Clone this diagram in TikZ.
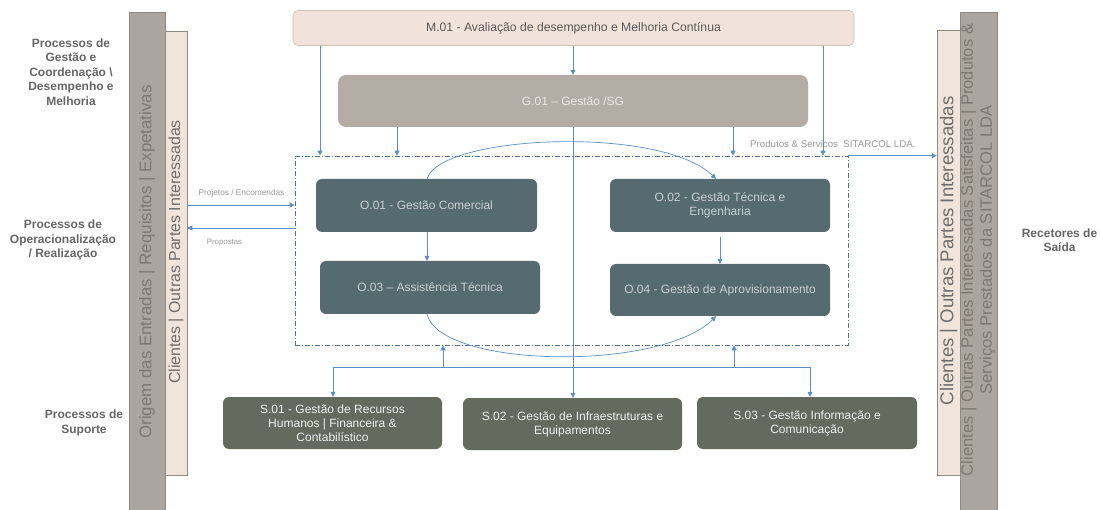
\documentclass[tikz,border=0pt]{standalone}
\usepackage{fontspec}
\setmainfont{Liberation Sans}
\usetikzlibrary{arrows.meta,calc}
\definecolor{bargray}{HTML}{ABA59F}
\definecolor{bargraytext}{HTML}{7D7873}
\definecolor{barbeige}{HTML}{F0E4DB}
\definecolor{barborder}{HTML}{8F8984}
\definecolor{beigetext}{HTML}{6E6E6E}
\definecolor{mfill}{HTML}{F1E3D9}
\definecolor{mborder}{HTML}{CDBFB4}
\definecolor{mtext}{HTML}{595959}
\definecolor{gfill}{HTML}{B4ADA6}
\definecolor{gtext}{HTML}{EDE7E2}
\definecolor{ofill}{HTML}{556B70}
\definecolor{otext}{HTML}{C9D0D2}
\definecolor{sfill}{HTML}{646A5E}
\definecolor{stext}{HTML}{F0F0F0}
\definecolor{arrblue}{HTML}{5B8FCB}
\definecolor{dashblue}{HTML}{4F72A0}
\definecolor{lbltext}{HTML}{666666}
\definecolor{smalltext}{HTML}{9A9A9A}
\begin{document}
\begin{tikzpicture}[x=1pt,y=-1pt,
  proc/.style={rectangle,rounded corners=6pt,inner sep=0pt,align=center},
  mbox/.style={proc,fill=mfill,draw=mborder,line width=0.6pt,text=mtext,font=\fontsize{12.2}{14.5}\selectfont,rounded corners=5pt},
  gbox/.style={proc,fill=gfill,text=gtext,font=\fontsize{12}{14.5}\selectfont,rounded corners=8pt},
  obox/.style={proc,fill=ofill,text=otext,font=\fontsize{12}{14.5}\selectfont,minimum width=220pt,minimum height=53pt},
  sbox/.style={proc,fill=sfill,text=stext,font=\fontsize{12}{14}\selectfont,minimum width=219pt,minimum height=52pt},
  grayband/.style={rectangle,inner sep=0pt,fill=bargray,draw=barborder,line width=0.5pt},
  beigeband/.style={rectangle,inner sep=0pt,fill=barbeige,draw=barborder,line width=0.5pt},
  bandtext/.style={rotate=90,inner sep=0pt,align=center},
  sidelbl/.style={align=center,text=lbltext,font=\fontsize{12}{14.5}\selectfont\bfseries,inner sep=0pt},
  small/.style={text=smalltext,inner sep=0pt},
  arr/.style={draw=arrblue,line width=0.7pt,-{Triangle[width=5pt,length=5pt]}},
  ln/.style={draw=arrblue,line width=0.7pt},
  dbox/.style={rectangle,draw=dashblue,line width=0.6pt,dash pattern=on 5pt off 2pt on 1pt off 2pt,inner sep=0pt}
]
\useasboundingbox (0,0) rectangle (1100,510);
\fill[white] (0,0) rectangle (1100,510);

% side bands
\node[grayband,minimum width=36pt,minimum height=500pt] (lgray) at (147,262) {};
\node[beigeband,minimum width=22pt,minimum height=444pt] (lbeige) at (176,253) {};
\node[beigeband,minimum width=23pt,minimum height=445pt] (rbeige) at (948.5,252.5) {};
\node[grayband,minimum width=37pt,minimum height=500pt] (rgray) at (978.5,262) {};

\node[bandtext,text=bargraytext,font=\fontsize{16.9}{19}\selectfont] (lgrayt) at (147,262) {Origem das Entradas | Requisitos | Expetativas};
\node[bandtext,text=beigetext,font=\fontsize{15.9}{18}\selectfont] (lbeiget) at (176,252) {Clientes | Outras Partes Interessadas};
\node[bandtext,text=beigetext,font=\fontsize{18.6}{20}\selectfont] (rbeiget) at (948.5,251) {Clientes | Outras Partes Interessadas};
\node[bandtext,text=bargraytext,font=\fontsize{16.6}{19}\selectfont] (rgrayt) at (978,250) {Clientes | Outras Partes Interessadas Satisfeitas | Produtos \&\\Serviços Prestados da SITARCOL LDA};

% side labels
\node[sidelbl] (lbl1) at (71,72) {Processos de\\Gestão e\\Coordenação \textbackslash\\Desempenho e\\Melhoria};
\node[sidelbl] (lbl2) at (63,240) {Processos de\\Operacionalização\\/ Realização};
\node[sidelbl] (lbl3) at (84,423) {Processos de\\Suporte};
\node[sidelbl] (lbl4) at (1059.5,240) {Recetores de\\Saída};

% main boxes
\node[mbox,minimum width=561pt,minimum height=35pt] (m01) at (573.5,28) {M.01 - Avaliação de desempenho e Melhoria Contínua};
\node[gbox,minimum width=470pt,minimum height=52pt] (g01) at (573,101) {G.01 – Gestão /SG};
\node[dbox,minimum width=553pt,minimum height=189pt] (ops) at (571.5,250.5) {};
\node[obox,minimum width=221pt] (o01) at (426.5,205.5) {O.01 - Gestão Comercial};
\node[obox] (o02) at (720,205.5) {O.02 - Gestão Técnica e\\Engenharia};
\node[obox] (o03) at (430,287.5) {O.03 – Assistência Técnica};
\node[obox,minimum height=52pt] (o04) at (720,290) {O.04 - Gestão de Aprovisionamento};
\node[sbox] (s01) at (332.5,423) {S.01 - Gestão de Recursos\\Humanos | Financeira \&\\Contabilístico};
\node[sbox] (s02) at (572.5,424) {S.02 - Gestão de Infraestruturas e\\Equipamentos};
\node[sbox,minimum width=220pt] (s03) at (807,423) {S.03 - Gestão Informação e\\Comunicação};

% small labels
\node[small,font=\fontsize{8.3}{10}\selectfont] (lproj) at (241.5,193) {Projetos / Encomendas};
\node[small,font=\fontsize{7.8}{9}\selectfont] (lprop) at (224.5,243) {Propostas};
\node[small,font=\fontsize{9.7}{11}\selectfont,anchor=west] (lprod) at (750,144) {Produtos \& Servicos\ \ SITARCOL LDA.};

% connectors from M.01 and G.01
\draw[arr] (320,0 |- m01.south) -- (320,0 |- ops.north);
\draw[arr] (573,0 |- m01.south) -- (573,0 |- g01.north);
\draw[arr] (823,0 |- m01.south) -- (823,0 |- ops.north);
\draw[arr] (397,0 |- g01.south) -- (397,0 |- ops.north);
\draw[arr] (733,0 |- g01.south) -- (733,0 |- ops.north);
\draw[arr] (573,0 |- g01.south) -- (573,0 |- s02.north);

% operational flows
\coordinate (o01top) at (427,0 |- o01.north);
\coordinate (o02top) at (716,0 |- o02.north);
\coordinate (o03bot) at (427,0 |- o03.south);
\coordinate (o04bot) at (716,0 |- o04.south);
\draw[arr] (o01top) .. controls (440,135) and (660,125) .. (o02top);
\draw[arr] (o03bot) .. controls (440,368) and (660,372) .. (o04bot);
\draw[arr] (427,0 |- o01.south) -- (427,0 |- o03.north);
\draw[arr] (720,0 |- o02.south) ++(0,5) -- (720,0 |- o04.north);

% left in/out
\draw[arr] (lbeige.east |- 0,205) -- (ops.west |- 0,205);
\draw[arr] (ops.west |- 0,228) -- (lbeige.east |- 0,228);

% right output
\draw[arr] (ops.north east) -- (rbeige.west |- ops.north east);

% support connectors
\coordinate (sl) at (333,367);
\coordinate (sr) at (810,367);
\draw[ln] (sl) -- (sr);
\draw[arr] (sl) -- (sl |- s01.north);
\draw[arr] (sr) -- (sr |- s03.north);
\draw[arr] (443,367) -- (443,0 |- ops.south);
\draw[arr] (734,367) -- (734,0 |- ops.south);
\end{tikzpicture}
\end{document}
